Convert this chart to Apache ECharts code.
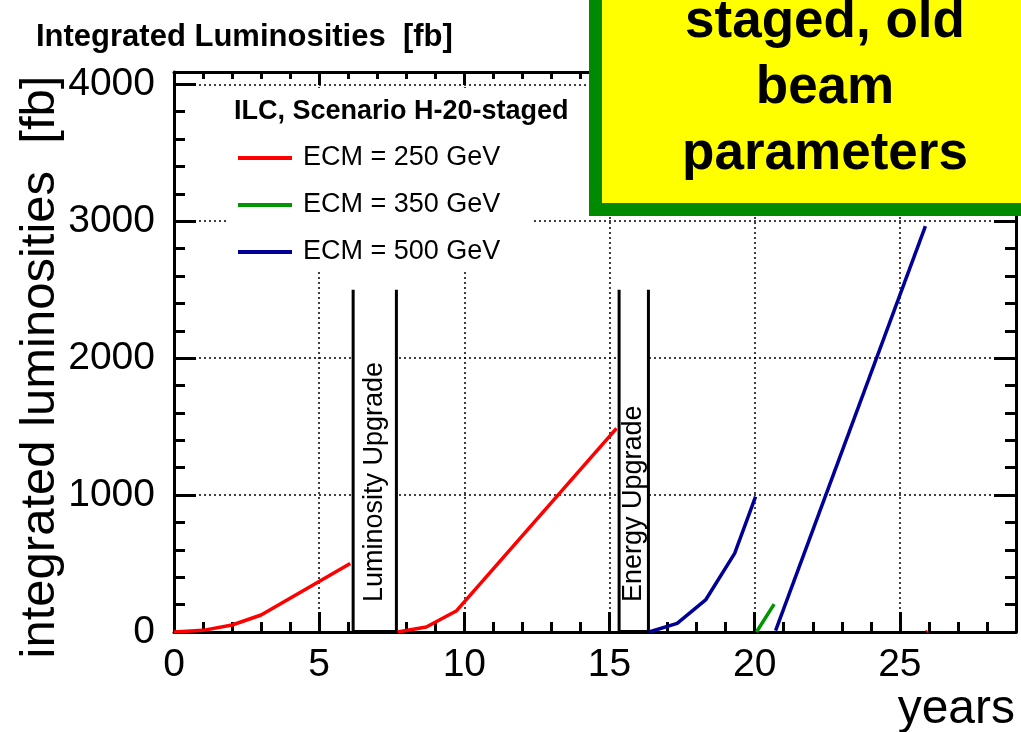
<!DOCTYPE html>
<html><head><meta charset="utf-8">
<script src="https://cdn.jsdelivr.net/npm/echarts@6/dist/echarts.min.js"></script>
<style>html,body{margin:0;padding:0;background:#fff}#c{width:1021px;height:732px}</style>
</head><body><div id="c"></div>
<script>
// ---- data ----
const seriesNames = ['ECM = 250 GeV', 'ECM = 350 GeV', 'ECM = 500 GeV'];
const red1 = [[0, 0], [1, 12], [2, 51], [3, 124], [6.07, 501]];
const red2 = [[7.70, 0], [8.69, 36], [9.72, 153], [15.24, 1487]];
const red3 = [[25.92, 0], [25.95, 8]];
const green1 = [[20.06, 0], [20.67, 204]];
const blue1 = [[16.36, 0], [17.33, 63], [18.31, 234], [19.31, 574], [20.03, 988]];
const blue2 = [[20.72, 10], [25.88, 2965]];
const upgrades = [[6.17, 7.66, 2500], [15.33, 16.34, 2500]];
const upgradeLabels = ['Luminosity Upgrade', 'Energy Upgrade'];
const xRange = [0, 29];
const yRange = [0, 4090];
const titleText = 'Integrated Luminosities  [fb]';
const legendHeader = 'ILC, Scenario H-20-staged';
const yTitle = 'integrated luminosities  [fb]';
const xTitle = 'years';
const noteLines = ['staged, old', 'beam', 'parameters'];

const FONT = '"Liberation Sans", Arial, Helvetica, sans-serif';
const colors = ['#ff0000', '#009600', '#000096'];

const chart = echarts.init(document.getElementById('c'), null, {renderer: 'canvas'});

function seg(nameIdx, data) {
  return {
    type: 'line', name: seriesNames[nameIdx], data: data,
    symbol: 'none', showSymbol: false, color: colors[nameIdx],
    lineStyle: {width: 3.5, color: colors[nameIdx]}, z: 3, animation: false
  };
}

const axisBase = (min, max, interval) => ({
  type: 'value', min: min, max: max, interval: interval,
  axisLine: {show: true, onZero: false, lineStyle: {color: '#000', width: 3}},
  splitLine: {show: false},
});
const plain = v => String(v);

const option = {
  animation: false,
  backgroundColor: '#fff',
  textStyle: {fontFamily: FONT},
  title: [
    {text: titleText, left: 36, top: 22, padding: 0,
     textStyle: {fontFamily: FONT, fontSize: 31, fontWeight: 'bold', color: '#000', lineHeight: 31}},
    {text: legendHeader, left: 234, top: 98, padding: 0, z: 10,
     textStyle: {fontFamily: FONT, fontSize: 27, fontWeight: 'bold', color: '#000', lineHeight: 27}}
  ],
  legend: {
    data: seriesNames, orient: 'vertical', left: 226, top: 88,
    padding: [50, 32, 0, 12], backgroundColor: '#fff',
    icon: 'rect', itemWidth: 54, itemHeight: 4, itemGap: 7,
    selectedMode: false,
    textStyle: {fontFamily: FONT, fontSize: 27, color: '#000', lineHeight: 40, padding: [0, 0, 0, 6]}
  },
  grid: {left: 174, right: 5, top: 72, bottom: 100, containLabel: false},
  xAxis: [
    Object.assign(axisBase(xRange[0], xRange[1], 5), {
      position: 'bottom',
      axisTick: {show: true, inside: true, length: 20, lineStyle: {color: '#000', width: 3}},
      minorTick: {show: true, splitNumber: 5, length: 10, lineStyle: {color: '#000', width: 3}},
      axisLabel: {show: true, fontFamily: FONT, fontSize: 39, color: '#000', margin: 14, showMaxLabel: false, formatter: plain},
      splitLine: {show: true, lineStyle: {color: '#000', width: 1.5, type: [2, 3]}}
    }),
    Object.assign(axisBase(xRange[0], xRange[1], 5), {
      position: 'top',
      axisTick: {show: true, inside: true, length: 13, lineStyle: {color: '#000', width: 3}},
      minorTick: {show: true, splitNumber: 5, length: 7, lineStyle: {color: '#000', width: 3}},
      axisLabel: {show: false}
    })
  ],
  yAxis: [
    Object.assign(axisBase(yRange[0], yRange[1], 1000), {
      position: 'left',
      axisTick: {show: true, inside: true, length: 22, lineStyle: {color: '#000', width: 3}},
      minorTick: {show: true, splitNumber: 5, length: 11, lineStyle: {color: '#000', width: 3}},
      axisLabel: {show: true, fontFamily: FONT, fontSize: 39, color: '#000', margin: 19, showMaxLabel: false, formatter: plain},
      splitLine: {show: true, lineStyle: {color: '#000', width: 1.5, type: [2, 3]}}
    }),
    Object.assign(axisBase(yRange[0], yRange[1], 1000), {
      position: 'right',
      axisTick: {show: true, inside: true, length: 22, lineStyle: {color: '#000', width: 3}},
      minorTick: {show: true, splitNumber: 5, length: 11, lineStyle: {color: '#000', width: 3}},
      axisLabel: {show: false}
    })
  ],
  series: [
    {
      type: 'custom', name: 'upgrades', data: upgrades, z: 2,
      encode: {x: [0, 1], y: 2},
      renderItem: function (params, api) {
        const p0 = api.coord([api.value(0), 0]);
        const p1 = api.coord([api.value(1), api.value(2)]);
        const x0 = p0[0], x1 = p1[0], yb = p0[1], yt = p1[1];
        return {
          type: 'group', children: [
            {type: 'rect', shape: {x: x0, y: yt, width: x1 - x0, height: yb - yt}, style: {fill: '#fff'}},
            {type: 'line', shape: {x1: x0, y1: yt, x2: x0, y2: yb}, style: {stroke: '#000', lineWidth: 3}},
            {type: 'line', shape: {x1: x1, y1: yt, x2: x1, y2: yb}, style: {stroke: '#000', lineWidth: 3}},
            {type: 'line', shape: {x1: x0, y1: yb, x2: x1, y2: yb}, style: {stroke: '#000', lineWidth: 4}},
            {type: 'text', x: (x0 + x1) / 2, y: yb - 30, rotation: Math.PI / 2,
             style: {text: upgradeLabels[params.dataIndex], font: '27px ' + FONT, fill: '#000',
                     align: 'left', verticalAlign: 'middle'}}
          ]
        };
      }
    },
    seg(0, red1), seg(0, red2), seg(0, red3),
    seg(1, green1),
    seg(2, blue1), seg(2, blue2)
  ],
  graphic: [
    {type: 'text', x: 40, y: 367, rotation: Math.PI / 2, z: 50,
     style: {text: yTitle, font: '49px ' + FONT, fill: '#000', align: 'center', verticalAlign: 'middle'}},
    {type: 'text', x: 1015, y: 710, z: 50,
     style: {text: xTitle, font: '48px ' + FONT, fill: '#000', align: 'right', verticalAlign: 'middle'}},
    {type: 'rect', z: 100, shape: {x: 595.5, y: -50, width: 600, height: 259.5},
     style: {fill: '#ffff00', stroke: '#008a00', lineWidth: 13}},
    {type: 'text', x: 825, y: 88.6, z: 101,
     style: {text: noteLines.join('\n'), font: 'bold 53px ' + FONT, fill: '#000',
             align: 'center', verticalAlign: 'middle', lineHeight: 66}}
  ]
};
chart.setOption(option);
</script>
</body></html>
